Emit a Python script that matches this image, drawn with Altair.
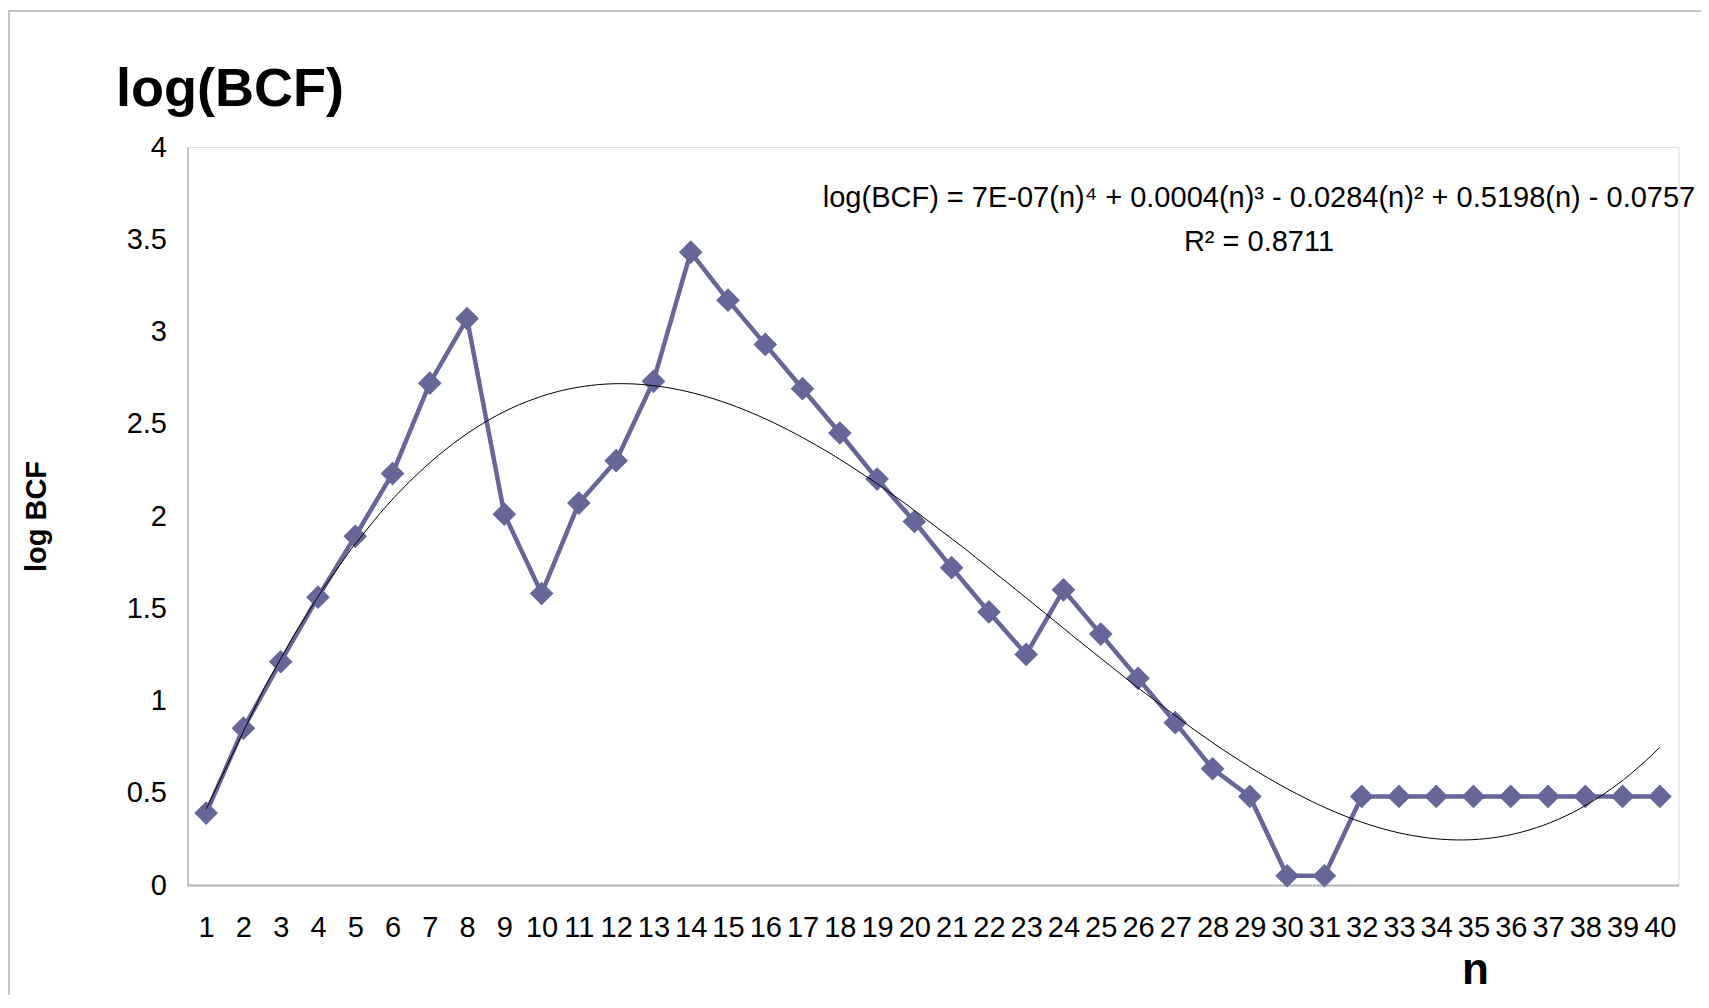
import altair as alt
import pandas as pd

# ---- data ----
n_values = list(range(1, 41))
log_bcf = [0.39, 0.85, 1.21, 1.56, 1.89, 2.23, 2.72, 3.07, 2.01, 1.58,
           2.07, 2.30, 2.73, 3.43, 3.17, 2.93, 2.69, 2.45, 2.20, 1.97,
           1.72, 1.48, 1.25, 1.60, 1.36, 1.12, 0.88, 0.63, 0.48, 0.05,
           0.05, 0.48, 0.48, 0.48, 0.48, 0.48, 0.48, 0.48, 0.48, 0.48]
y_ticks = [0, 0.5, 1, 1.5, 2, 2.5, 3, 3.5, 4]
title_text = "log(BCF)"
equation_text = "log(BCF) = 7E-07(n)\u2074 + 0.0004(n)\u00b3 - 0.0284(n)\u00b2 + 0.5198(n) - 0.0757"
r2_text = "R\u00b2 = 0.8711"

FONT = "Liberation Sans, Arial, sans-serif"
SERIES = "#666699"
AXIS_GRAY = "#b4b4b4"

df = pd.DataFrame({"n": n_values, "logBCF": log_bcf})
one = pd.DataFrame({"k": [0]})

x_axis = alt.Axis(
    values=n_values, format="d", labelAngle=0, labelFontSize=29,
    labelPadding=28, labelOverlap=False, labelFlush=False, labelFont=FONT,
    labelColor="black", ticks=False, grid=False,
    domainColor=AXIS_GRAY, domainWidth=2,
    title="n", titleFont=FONT, titleFontSize=44, titleFontWeight="bold",
    titleColor="black", titleX=1287.5, titleY=98,
    titleBaseline="alphabetic", titleAlign="center",
)
y_axis = alt.Axis(
    values=y_ticks, format="~g", labelFontSize=29, labelPadding=21,
    labelFont=FONT, labelColor="black", ticks=False, grid=False,
    labelOverlap=False, domainColor=AXIS_GRAY, domainWidth=1.5,
    title="log BCF", titleFont=FONT, titleFontSize=29,
    titleFontWeight="bold", titleColor="black", titleAngle=270,
    titleX=-151, titleY=369, titleBaseline="middle", titleAlign="center",
)
x_scale = alt.Scale(domain=[0.5, 40.5], nice=False, zero=False)
y_scale = alt.Scale(domain=[0, 4], nice=False, zero=True)


def xy():
    return dict(
        x=alt.X("n:Q", scale=x_scale, axis=x_axis),
        y=alt.Y("logBCF:Q", scale=y_scale, axis=y_axis),
    )


base = alt.Chart(df)

series_line = base.mark_line(color=SERIES, strokeWidth=4.5).encode(**xy())
series_pts = base.mark_point(shape="diamond", filled=True, size=560,
                             color=SERIES, opacity=1).encode(**xy())
trend = base.transform_regression(
    "n", "logBCF", method="poly", order=4, extent=[1, 40]
).mark_line(color="black", strokeWidth=1).encode(**xy())

title_mark = alt.Chart(one).mark_text(
    text=title_text, font=FONT, fontSize=54, fontWeight="bold", align="left",
    baseline="alphabetic", color="black"
).encode(x=alt.value(-71.5), y=alt.value(-41))
eq = alt.Chart(one).mark_text(
    text=equation_text, font=FONT, fontSize=29, align="center",
    baseline="alphabetic", color="black"
).encode(x=alt.value(1071.5), y=alt.value(60))
r2 = alt.Chart(one).mark_text(
    text=r2_text, font=FONT, fontSize=29, align="center",
    baseline="alphabetic", color="black"
).encode(x=alt.value(1071.5), y=alt.value(104))

frame_left = alt.Chart(one).mark_rule(color="#8c8c8c", strokeWidth=1).encode(
    x=alt.value(-178.5), y=alt.value(-136), y2=alt.value(860))
frame_top = alt.Chart(one).mark_rule(color="#8c8c8c", strokeWidth=1).encode(
    x=alt.value(-179), x2=alt.value(1520), y=alt.value(-136))

chart = alt.layer(
    frame_left, frame_top, series_line, series_pts, trend,
    title_mark, eq, r2
).properties(
    width=1491, height=738,
    padding={"left": 179.5, "top": 139, "right": 22.5, "bottom": 110},
    autosize=alt.AutoSizeParams(type="none"),
).configure_view(stroke=None).configure(font=FONT).configure_axisX(
    labelOverlap=False
)

chart.save("out.html", embed_options={"renderer": "svg", "actions": False})
